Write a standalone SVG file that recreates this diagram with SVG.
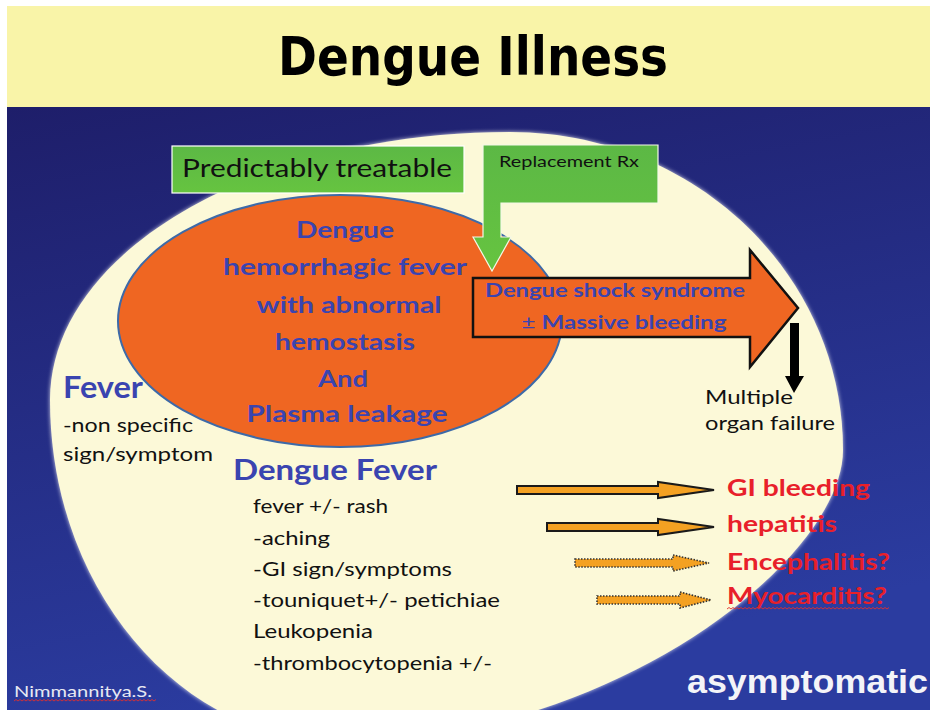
<svg xmlns="http://www.w3.org/2000/svg" width="933" height="713" viewBox="0 0 933 713">
  <defs>
    <linearGradient id="bg" x1="0" y1="0" x2="0.3" y2="1">
      <stop offset="0" stop-color="#1e1e6a"/>
      <stop offset="1" stop-color="#2b3ca0"/>
    </linearGradient>
    <linearGradient id="green" x1="0" y1="0" x2="0" y2="1">
      <stop offset="0" stop-color="#5cb845"/>
      <stop offset="1" stop-color="#66c440"/>
    </linearGradient>
    <filter id="glow" x="-5%" y="-5%" width="110%" height="110%">
      <feGaussianBlur stdDeviation="2"/>
    </filter>
    <clipPath id="slide"><rect x="7" y="107" width="923" height="603"/></clipPath>
  </defs>
  <style>
    .cal { font-family: Lato, "Open Sans", "Liberation Sans", sans-serif; }
    .blue { fill: #3a44b0; font-weight: bold; }
    .blk { fill: #111111; }
    .red { fill: #e8202a; font-weight: bold; }
    .oarr { fill: #f4a122; stroke: #1a1a1a; stroke-width: 2; stroke-linejoin: miter; }
    .oarr-dot { fill: #f4a122; stroke: #333333; stroke-width: 1.6; stroke-dasharray: 1.5 1.5; }
    .squig { fill: none; stroke: #e03030; stroke-width: 0.9; }
  </style>

  <!-- slide background -->
  <rect x="0" y="0" width="933" height="713" fill="#ffffff"/>
  <rect x="7" y="6" width="923" height="101" fill="#f9f4a8"/>
  <rect x="7" y="107" width="923" height="603" fill="url(#bg)"/>

  <!-- cream ellipse (scope of illness) -->
  <g id="dengue-scope" clip-path="url(#slide)">
    <path d="M510,132 C694,132 843,274 843,450 C843,560 610,742 340,742 C180,742 50,589 50,400 C50,252 256,132 510,132 Z" fill="#ffffff" opacity="0.8" filter="url(#glow)"/>
    <path d="M510,132 C694,132 843,274 843,450 C843,560 610,742 340,742 C180,742 50,589 50,400 C50,252 256,132 510,132 Z" fill="#fcf9d8"/>
  </g>

  <!-- title -->
  <g id="title">
    <text x="473" y="75" text-anchor="middle" font-family="'DejaVu Sans', Verdana, sans-serif" font-weight="bold" font-size="54" fill="#000000" textLength="390" lengthAdjust="spacingAndGlyphs">Dengue Illness</text>
  </g>

  <!-- Predictably treatable box -->
  <g id="predictably-treatable">
    <rect x="172" y="146" width="292" height="47" fill="url(#green)" stroke="#ffffff" stroke-width="1.2"/>
    <text class="cal blk" x="182" y="177" font-size="25" textLength="270" lengthAdjust="spacingAndGlyphs">Predictably treatable</text>
  </g>

  <!-- DHF ellipse -->
  <g id="dhf">
    <ellipse cx="340" cy="321" rx="222" ry="126" fill="#ef6622" stroke="#3d6aa8" stroke-width="2"/>
    <g class="cal blue" font-size="22" text-anchor="middle">
      <text x="345" y="238" textLength="98" lengthAdjust="spacingAndGlyphs">Dengue</text>
      <text x="345" y="275" textLength="244" lengthAdjust="spacingAndGlyphs">hemorrhagic  fever</text>
      <text x="349" y="313" textLength="185" lengthAdjust="spacingAndGlyphs">with abnormal</text>
      <text x="345" y="350" textLength="140" lengthAdjust="spacingAndGlyphs">hemostasis</text>
      <text x="343" y="387" textLength="50" lengthAdjust="spacingAndGlyphs">And</text>
      <text x="347" y="422" textLength="201" lengthAdjust="spacingAndGlyphs">Plasma  leakage</text>
    </g>
  </g>

  <!-- Replacement Rx callout with down arrow -->
  <g id="replacement-rx">
    <path d="M483,145 H658 V203 H501 V237 H511 L492,271 L473,237 H483 Z" fill="url(#green)" stroke="#f4f8e8" stroke-width="1.2"/>
    <text class="cal blk" x="499" y="167" font-size="16" textLength="140" lengthAdjust="spacingAndGlyphs">Replacement  Rx</text>
  </g>

  <!-- Dengue shock syndrome arrow -->
  <g id="dss">
    <path d="M473,278 H750 V250 L798,308 L750,367 V337 H473 Z" fill="#ef6622" stroke="#111111" stroke-width="2.5"/>
    <g class="cal blue" font-size="19" text-anchor="middle">
      <text x="615" y="297" textLength="260" lengthAdjust="spacingAndGlyphs">Dengue shock syndrome</text>
      <text x="624" y="329" textLength="205" lengthAdjust="spacingAndGlyphs"><tspan font-weight="normal">±</tspan> Massive bleeding</text>
    </g>
  </g>

  <!-- Multiple organ failure -->
  <g id="organ-failure" class="cal blk" font-size="19">
    <text x="705" y="404" textLength="88" lengthAdjust="spacingAndGlyphs">Multiple</text>
    <text x="705" y="430" textLength="130" lengthAdjust="spacingAndGlyphs">organ failure</text>
  </g>

  <!-- Fever -->
  <g id="fever">
    <text class="cal blue" x="63" y="398" font-size="30" textLength="80" lengthAdjust="spacingAndGlyphs">Fever</text>
    <text class="cal blk" x="63" y="432" font-size="20" textLength="130" lengthAdjust="spacingAndGlyphs">-non specific</text>
    <text class="cal blk" x="63" y="461" font-size="20" textLength="150" lengthAdjust="spacingAndGlyphs">sign/symptom</text>
  </g>

  <!-- Dengue Fever -->
  <g id="dengue-fever">
    <text class="cal blue" x="233" y="480" font-size="28" textLength="204" lengthAdjust="spacingAndGlyphs">Dengue Fever</text>
    <g class="cal blk" font-size="20">
      <text x="253" y="513" textLength="135" lengthAdjust="spacingAndGlyphs">fever +/- rash</text>
      <text x="253" y="545" textLength="77" lengthAdjust="spacingAndGlyphs">-aching</text>
      <text x="253" y="576" textLength="199" lengthAdjust="spacingAndGlyphs">-GI sign/symptoms</text>
      <text x="253" y="607" textLength="247" lengthAdjust="spacingAndGlyphs">-touniquet+/- petichiae</text>
      <text x="253" y="638" textLength="120" lengthAdjust="spacingAndGlyphs">Leukopenia</text>
      <text x="253" y="670" textLength="239" lengthAdjust="spacingAndGlyphs">-thrombocytopenia +/-</text>
    </g>
  </g>

  <!-- complications -->
  <g id="gi-bleeding"><text class="cal red" x="727" y="496" font-size="23" textLength="143" lengthAdjust="spacingAndGlyphs">GI bleeding</text></g>
  <g id="hepatitis"><text class="cal red" x="727" y="532" font-size="23" textLength="110" lengthAdjust="spacingAndGlyphs">hepatitis</text></g>
  <g id="encephalitis"><text class="cal red" x="727" y="570" font-size="23" textLength="163" lengthAdjust="spacingAndGlyphs">Encephalitis?</text></g>
  <g id="myocarditis">
    <text class="cal red" x="727" y="604" font-size="23" textLength="160" lengthAdjust="spacingAndGlyphs">Myocarditis?</text>
    <path class="squig" d="M727,609 l2,-1.5 l2,1.5 l2,-1.5 l2,1.5 l2,-1.5 l2,1.5 l2,-1.5 l2,1.5 l2,-1.5 l2,1.5 l2,-1.5 l2,1.5 l2,-1.5 l2,1.5 l2,-1.5 l2,1.5 l2,-1.5 l2,1.5 l2,-1.5 l2,1.5 l2,-1.5 l2,1.5 l2,-1.5 l2,1.5 l2,-1.5 l2,1.5 l2,-1.5 l2,1.5 l2,-1.5 l2,1.5 l2,-1.5 l2,1.5 l2,-1.5 l2,1.5 l2,-1.5 l2,1.5 l2,-1.5 l2,1.5 l2,-1.5 l2,1.5 l2,-1.5 l2,1.5 l2,-1.5 l2,1.5 l2,-1.5 l2,1.5 l2,-1.5 l2,1.5 l2,-1.5 l2,1.5 l2,-1.5 l2,1.5 l2,-1.5 l2,1.5 l2,-1.5 l2,1.5 l2,-1.5 l2,1.5 l2,-1.5 l2,1.5 l2,-1.5 l2,1.5 l2,-1.5 l2,1.5 l2,-1.5 l2,1.5 l2,-1.5 l2,1.5 l2,-1.5 l2,1.5 l2,-1.5 l2,1.5 l2,-1.5 l2,1.5 l2,-1.5 l2,1.5 l2,-1.5 l2,1.5 l2,-1.5 l2,1.5 l2,-1.5"/>
  </g>

  <!-- asymptomatic -->
  <g id="asymptomatic">
    <text x="687" y="693" font-family="'Liberation Sans', Arial, sans-serif" font-weight="bold" font-size="34" fill="#f4f4f8" textLength="241" lengthAdjust="spacingAndGlyphs">asymptomatic</text>
  </g>

  <!-- author -->
  <g id="author">
    <text x="14" y="697" font-family="Lato, 'Liberation Sans', sans-serif" font-size="15" fill="#e6e8f2" textLength="138" lengthAdjust="spacingAndGlyphs">Nimmannitya.S.</text>
    <path class="squig" d="M14,701 l2,-1.5 l2,1.5 l2,-1.5 l2,1.5 l2,-1.5 l2,1.5 l2,-1.5 l2,1.5 l2,-1.5 l2,1.5 l2,-1.5 l2,1.5 l2,-1.5 l2,1.5 l2,-1.5 l2,1.5 l2,-1.5 l2,1.5 l2,-1.5 l2,1.5 l2,-1.5 l2,1.5 l2,-1.5 l2,1.5 l2,-1.5 l2,1.5 l2,-1.5 l2,1.5 l2,-1.5 l2,1.5 l2,-1.5 l2,1.5 l2,-1.5 l2,1.5 l2,-1.5 l2,1.5 l2,-1.5 l2,1.5 l2,-1.5 l2,1.5 l2,-1.5 l2,1.5 l2,-1.5 l2,1.5 l2,-1.5 l2,1.5 l2,-1.5 l2,1.5 l2,-1.5 l2,1.5 l2,-1.5 l2,1.5 l2,-1.5 l2,1.5 l2,-1.5 l2,1.5 l2,-1.5 l2,1.5 l2,-1.5 l2,1.5 l2,-1.5 l2,1.5 l2,-1.5 l2,1.5 l2,-1.5 l2,1.5 l2,-1.5 l2,1.5 l2,-1.5 l2,1.5 l2,-1.5"/>
  </g>

  <!-- connectors -->
  <g id="connectors">
    <path id="arrow-organ-failure" d="M790,323 H799 V376 H804 L794,393 L785,376 H790 Z" fill="#000000"/>
    <path id="arrow-gi" class="oarr" d="M517,486 H658 V482 L714,490 L658,498 V494 H517 Z"/>
    <path id="arrow-hepatitis" class="oarr" d="M547,523 H658 V519 L714,527 L658,535 V531 H547 Z"/>
    <path id="arrow-encephalitis" class="oarr-dot" d="M575,559 H673 V555 L709,563 L673,571 V567 H575 Z"/>
    <path id="arrow-myocarditis" class="oarr-dot" d="M597,596 H680 V592 L711,600 L680,608 V604 H597 Z"/>
  </g>
</svg>
